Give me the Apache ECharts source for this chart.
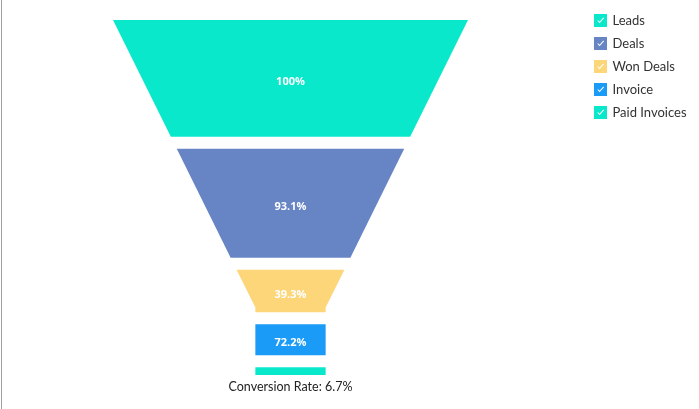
<!DOCTYPE html>
<html>
<head>
<meta charset="utf-8">
<script src="https://cdn.jsdelivr.net/npm/echarts@6/dist/echarts.min.js"></script>
<style>
html,body{margin:0;padding:0;background:#fff;}
#chart{width:699px;height:409px;}
</style>
</head>
<body>
<div id="chart"></div>
<script>
// ---- data ----
const categories = ['Leads', 'Deals', 'Won Deals', 'Invoice', 'Paid Invoices'];
const values = [2000, 1862, 731, 528, 134];
const colors = ['#0AE8CC', '#6784C4', '#FDD67A', '#1A9BF8', '#0AE8CC'];

// ---- layout constants ----
const GAP = 205;          // gap between slices, in value units
const SLOPE = 0.99;       // fraction of half width lost over full height
const NECK = 0.198;       // neck half width (fraction)

const starts = [];
let acc = 0;
values.forEach((v, i) => { starts.push(acc); acc += v + (i < values.length - 1 ? GAP : 0); });
const total = acc;
const breakY = (1 - NECK) / SLOPE * total;
function hw(y) { return Math.max(NECK, 1 - SLOPE * y / total); }

function pctLabel(i) {
  if (i === 0) return '100%';
  return (values[i] / values[i - 1] * 100).toFixed(1) + '%';
}
const conversion = (values[values.length - 1] / values[0] * 100).toFixed(1) + '%';

const checkIcon = 'path://M0,0L14,0L14,14L0,14Z M3.6,7.4L6,10L10.8,4.6L10,3.9L6,8.4L4.4,6.6Z';

function makeRenderItem(color) {
  return function (params, api) {
    const i = api.value(0);
    const y0 = api.value(1), y1 = api.value(2);
    const ys = [y0];
    if (breakY > y0 && breakY < y1) ys.push(breakY);
    ys.push(y1);
    const pts = [];
    ys.forEach(y => pts.push(api.coord([hw(y), y])));
    for (let k = ys.length - 1; k >= 0; k--) pts.push(api.coord([-hw(ys[k]), ys[k]]));
    const children = [{
      type: 'polygon',
      shape: { points: pts },
      style: { fill: color }
    }];
    const top = api.coord([0, y0]), bot = api.coord([0, y1]);
    if (bot[1] - top[1] > 14) {
      children.push({
        type: 'text',
        style: {
          text: pctLabel(i),
          x: top[0], y: (top[1] + bot[1]) / 2 + 3.5,
          align: 'center', verticalAlign: 'middle',
          fill: '#ffffff',
          font: 'bold 11px "Open Sans", sans-serif'
        }
      });
    }
    if (i === values.length - 1) {
      children.push({
        type: 'text',
        style: {
          text: 'Conversion Rate: ' + conversion,
          x: bot[0], y: bot[1] + 12,
          align: 'center', verticalAlign: 'middle',
          fill: '#222222',
          font: '12.5px Lato, sans-serif'
        }
      });
    }
    return { type: 'group', children: children };
  };
}

const series = categories.map((name, i) => ({
  type: 'custom',
  name: name,
  coordinateSystem: 'cartesian2d',
  clip: false,
  color: colors[i],
  itemStyle: { color: colors[i] },
  renderItem: makeRenderItem(colors[i]),
  data: [[i, starts[i], starts[i] + values[i]]],
  encode: { x: -1, y: [1, 2] }
}));

const chart = echarts.init(document.getElementById('chart'), null, { renderer: 'canvas' });
chart.setOption({
  animation: false,
  backgroundColor: '#ffffff',
  grid: { left: 113, top: 20, width: 355, height: 355 },
  xAxis: { type: 'value', min: -1, max: 1, show: false },
  yAxis: { type: 'value', min: 0, max: total, inverse: true, show: false },
  legend: {
    orient: 'vertical',
    left: 589, top: 9,
    itemWidth: 14, itemHeight: 13, itemGap: 10,
    icon: checkIcon,
    data: categories,
    textStyle: { fontSize: 13, color: '#333333', fontFamily: 'Lato, sans-serif' }
  },
  graphic: [{
    type: 'rect',
    shape: { x: 1, y: 0, width: 1, height: 409 },
    style: { fill: '#a0a0a0' }
  }],
  series: series
});
</script>
</body>
</html>
